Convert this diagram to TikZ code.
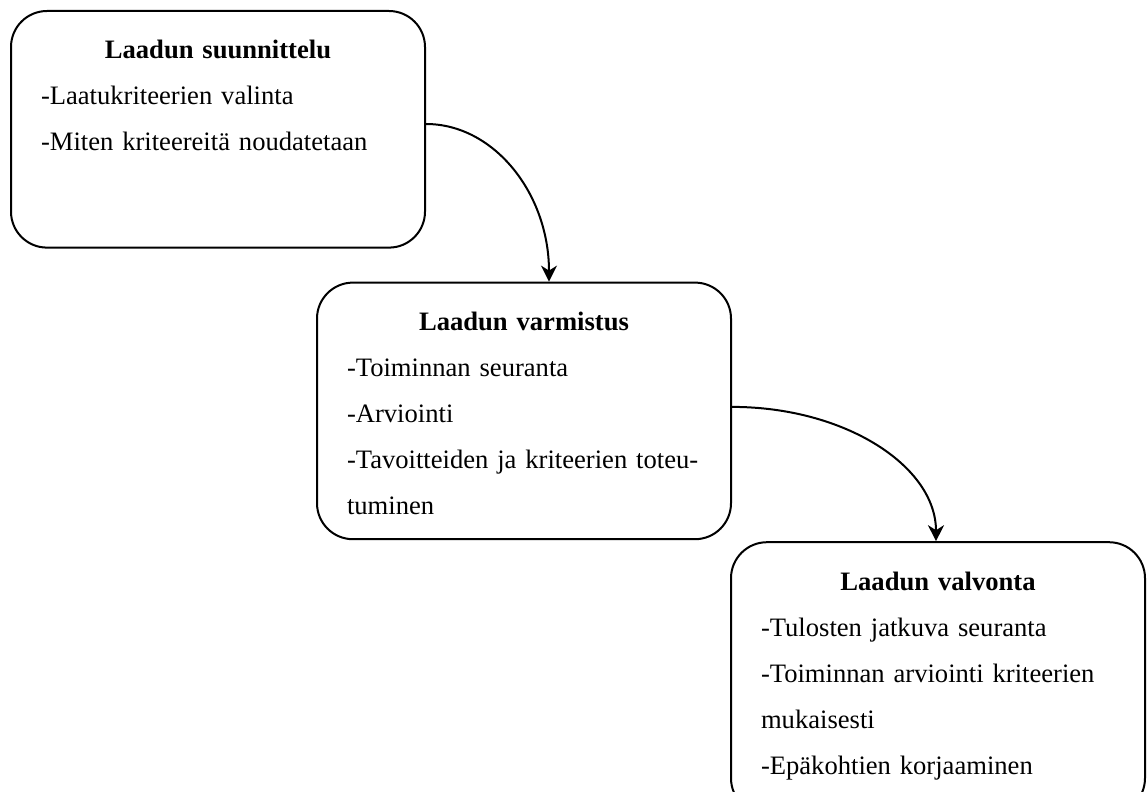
\documentclass[tikz,border=0pt]{standalone}
\usepackage{fontspec}
\setmainfont{Liberation Serif}
\usetikzlibrary{arrows.meta,positioning}
\newcommand{\phasetitle}[1]{\makebox[\linewidth]{\bfseries #1}}
\tikzset{
  phase/.style={draw,line width=1pt,rounded corners=18pt,align=left,
                text width=177pt,inner xsep=15pt,inner ysep=0pt,text height=24pt,
                font=\fontsize{13.3pt}{23pt}\selectfont},
  flow/.style={-{Stealth[length=8pt,width=8pt,inset=2.5pt]},line width=1pt}
}

\begin{document}
\begin{tikzpicture}[x=0.5pt,y=0.5pt]
  \useasboundingbox (0,0) rectangle (1147,-792);
  \node[phase,text depth=94.3pt,anchor=north west] (suunnittelu) at (10,-10)
    {\phasetitle{Laadun suunnittelu}\\-Laatukriteerien valinta\\-Miten kriteereitä noudatetaan};
  \node[phase,text depth=104.3pt,below right=16.5pt and -55pt of suunnittelu] (varmistus)
    {\phasetitle{Laadun varmistus}\\-Toiminnan seuranta\\-Arviointi\\-Tavoitteiden ja kriteerien toteu-\\tuminen};
  \node[phase,text depth=112pt,below right=0.5pt and -1pt of varmistus] (valvonta)
    {\phasetitle{Laadun valvonta}\\-Tulosten jatkuva seuranta\\-Toiminnan arviointi kriteerien\\mukaisesti\\-Epäkohtien korjaaminen};
  \draw[flow] ([yshift=2.65pt]suunnittelu.east) .. controls +(34pt,0) and +(0,44pt) .. ([xshift=12.5pt]varmistus.north);
  \draw[flow] ([yshift=2pt]varmistus.east) .. controls +(56.5pt,0) and +(0,37.5pt) .. ([xshift=-1pt]valvonta.north);
\end{tikzpicture}
\end{document}
